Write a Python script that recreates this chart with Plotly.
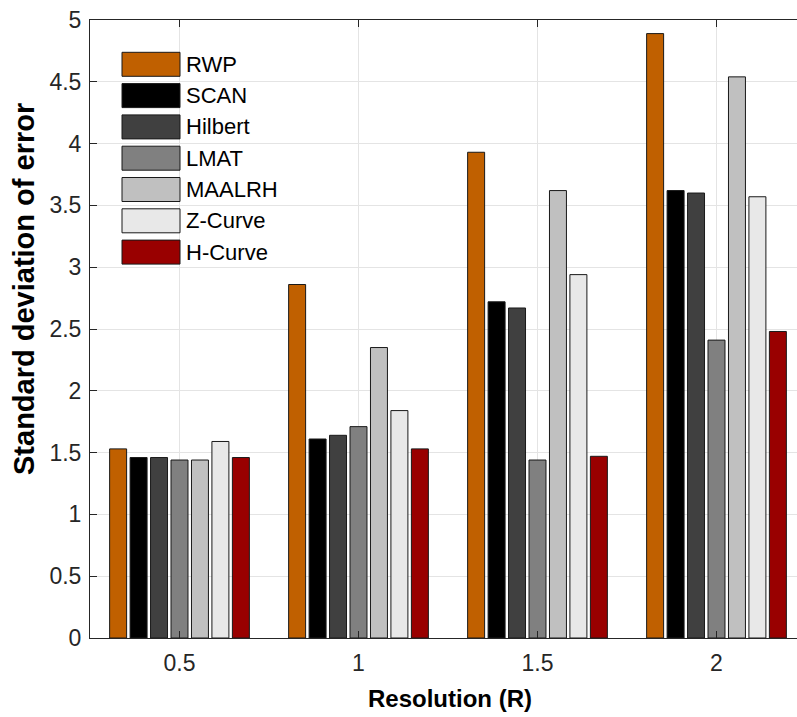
import plotly.graph_objects as go

resolutions = [0.5, 1, 1.5, 2]
series_names = ["RWP", "SCAN", "Hilbert", "LMAT", "MAALRH", "Z-Curve", "H-Curve"]
series_colors = ["#C06000", "#000000", "#404040", "#808080", "#C0C0C0", "#E8E8E8", "#990000"]

rwp = [1.53, 2.86, 3.93, 4.89]
scan = [1.46, 1.61, 2.72, 3.62]
hilbert = [1.46, 1.64, 2.67, 3.60]
lmat = [1.44, 1.71, 1.44, 2.41]
maalrh = [1.44, 2.35, 3.62, 4.54]
zcurve = [1.59, 1.84, 2.94, 3.57]
hcurve = [1.46, 1.53, 1.47, 2.48]
series_values = [rwp, scan, hilbert, lmat, maalrh, zcurve, hcurve]

x_ticks = [0.5, 1, 1.5, 2]
x_ticktext = ["0.5", "1", "1.5", "2"]
y_ticks = [0, 0.5, 1, 1.5, 2, 2.5, 3, 3.5, 4, 4.5, 5]
y_ticktext = ["0", "0.5", "1", "1.5", "2", "2.5", "3", "3.5", "4", "4.5", "5"]

FONT = "Liberation Sans, Arial, sans-serif"
AXC = "rgb(38,38,38)"
W, H = 797, 717
ML, MR, MT, MB = 90, 0, 20, 79

fig = go.Figure()
for name, color, vals in zip(series_names, series_colors, series_values):
    fig.add_trace(go.Bar(
        x=resolutions, y=vals, name=name,
        marker=dict(color=color, line=dict(color="rgb(25,25,25)", width=1)),
        showlegend=False,
    ))

# custom legend (large MATLAB-style swatches)
pw = W - ML - MR
ph = H - MT - MB
shapes = []
annotations = []
for i, (name, color) in enumerate(zip(series_names, series_colors)):
    top = 52.3 + 31.3 * i
    bot = top + 24
    x0 = (122 - ML) / pw
    x1 = (180 - ML) / pw
    y0 = (H - MB - bot) / ph
    y1 = (H - MB - top) / ph
    shapes.append(dict(type="rect", xref="paper", yref="paper", x0=x0, x1=x1, y0=y0, y1=y1,
                       fillcolor=color, line=dict(color="rgb(25,25,25)", width=1), layer="above"))
    annotations.append(dict(xref="paper", yref="paper", x=(184 - ML) / pw, y=(y0 + y1) / 2,
                            text=name, showarrow=False, xanchor="left", yanchor="middle",
                            font=dict(family=FONT, size=22, color="black")))

# axis titles
annotations.append(dict(xref="paper", yref="paper", x=(450 - ML) / pw, y=(H - MB - 699) / ph,
                        text="<b>Resolution (R)</b>", showarrow=False, xanchor="center", yanchor="middle",
                        font=dict(family=FONT, size=24, color="black")))
annotations.append(dict(xref="paper", yref="paper", x=(24 - ML) / pw, y=(H - MB - 289) / ph,
                        text="<b>Standard deviation of error</b>", showarrow=False, textangle=-90,
                        xanchor="center", yanchor="middle",
                        font=dict(family=FONT, size=29, color="black")))

fig.update_layout(
    width=W, height=H,
    margin=dict(l=ML, r=MR, t=MT, b=MB),
    paper_bgcolor="white", plot_bgcolor="white",
    barmode="group", bargap=0.2, bargroupgap=0.17,
    shapes=shapes, annotations=annotations,
    font=dict(family=FONT, size=23, color=AXC),
)
fig.update_xaxes(
    range=[0.25, 0.25 + (W - ML - MR) / 358.0],
    tickvals=x_ticks, ticktext=x_ticktext,
    showgrid=True, gridcolor="rgb(228,228,228)", gridwidth=1,
    showline=True, linecolor=AXC, linewidth=1, mirror="ticks",
    ticks="inside", ticklen=7, tickcolor=AXC,
    tickfont=dict(family=FONT, size=23, color=AXC),
    ticklabelstandoff=4,
    zeroline=False,
)
fig.update_yaxes(
    range=[0, 5],
    tickvals=y_ticks, ticktext=y_ticktext,
    showgrid=True, gridcolor="rgb(228,228,228)", gridwidth=1,
    showline=True, linecolor=AXC, linewidth=1, mirror=False,
    ticks="inside", ticklen=7, tickcolor=AXC,
    tickfont=dict(family=FONT, size=23, color=AXC),
    ticklabelstandoff=3,
    zeroline=False,
)

fig.write_html("out.html")
